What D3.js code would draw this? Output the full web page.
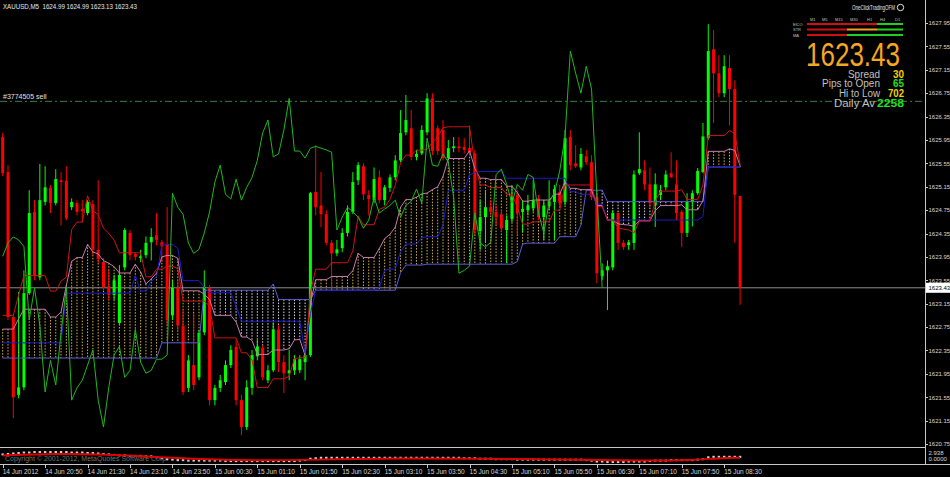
<!DOCTYPE html>
<html><head><meta charset="utf-8">
<script src="https://cdn.jsdelivr.net/npm/d3@7"></script>
<style>html,body{margin:0;padding:0;background:#000;overflow:hidden}</style>
</head><body>
<svg id="c" width="950" height="477"></svg>
<script>
// ---------- DATA ----------
const symbolTitle = "XAUUSD,M5  1624.99 1624.99 1623.13 1623.43";
const opens = [1626.00,1625.40,1622.92,1621.59,1621.72,1623.33,1624.72,1623.60,1624.89,1625.13,
1624.87,1625.26,1625.25,1624.80,1624.87,1624.77,1624.70,1624.85,1624.07,1623.86,
1623.45,1623.30,1622.82,1623.77,1624.36,1624.00,1623.93,1623.98,1624.20,1624.32,
1624.20,1624.17,1622.95,1623.42,1622.77,1621.71,1622.10,1621.89,1622.66,1623.42,
1621.50,1621.71,1621.81,1622.10,1622.41,1621.50,1621.04,1621.71,1622.25,1622.39,
1621.84,1622.01,1622.71,1622.15,1621.96,1622.01,1622.01,1622.15,1622.27,1625.06,
1624.83,1624.68,1624.19,1624.01,1624.10,1624.36,1624.72,1625.26,1625.50,1625.01,
1624.92,1625.31,1624.92,1625.13,1625.31,1625.60,1626.08,1626.15,1625.66,1625.72,
1626.08,1626.66,1626.15,1626.12,1625.64,1625.81,1625.84,1625.83,1625.81,1625.72,
1624.39,1624.63,1624.80,1624.72,1624.68,1624.41,1624.60,1625.01,1624.72,1624.75,
1624.78,1624.95,1624.63,1624.82,1624.89,1625.06,1624.89,1626.00,1625.55,1625.48,
1625.67,1625.57,1624.97,1623.62,1623.72,1623.77,1624.70,1624.19,1624.15,1624.19,
1625.38,1625.43,1625.19,1624.83,1625.01,1625.14,1625.38,1625.19,1624.72,1624.36,
1624.89,1625.04,1625.40,1625.98,1627.50,1627.09,1626.75,1627.18,1626.82,1624.99];
const highs = [1626.07,1625.52,1622.95,1623.35,1623.72,1625.09,1624.92,1625.54,1625.50,1625.18,
1625.45,1625.40,1625.50,1624.95,1624.92,1624.92,1624.92,1624.92,1625.26,1623.93,
1623.72,1623.64,1623.81,1624.44,1624.41,1624.03,1624.07,1624.30,1624.44,1624.70,
1624.24,1624.80,1623.55,1623.55,1623.04,1622.27,1622.99,1622.70,1623.72,1623.47,
1621.76,1621.93,1622.18,1622.44,1622.53,1621.59,1621.84,1622.36,1622.53,1622.44,
1622.10,1622.83,1622.78,1622.27,1622.36,1622.27,1622.27,1622.41,1625.06,1625.86,
1625.40,1624.75,1624.24,1624.24,1624.44,1624.83,1625.40,1625.57,1625.55,1625.09,
1625.48,1625.43,1625.18,1625.36,1625.69,1626.46,1626.72,1626.46,1625.78,1626.20,
1626.75,1626.75,1626.20,1626.29,1625.95,1626.00,1626.00,1625.98,1626.20,1625.78,
1624.92,1625.09,1624.92,1624.83,1624.75,1624.66,1625.18,1625.09,1624.92,1625.01,
1625.26,1625.01,1624.92,1625.26,1625.18,1625.18,1626.12,1626.12,1625.86,1625.81,
1625.78,1625.69,1625.01,1623.84,1623.89,1624.75,1624.71,1624.24,1624.24,1625.43,
1626.08,1625.60,1625.48,1625.38,1625.18,1625.43,1625.74,1625.60,1624.75,1625.04,
1625.09,1625.47,1626.24,1627.93,1627.83,1627.40,1627.40,1627.40,1626.97,1624.99];
const lows = [1625.33,1622.87,1621.19,1621.53,1621.67,1623.30,1623.55,1623.55,1624.83,1624.70,
1624.83,1624.49,1624.58,1624.75,1624.66,1624.54,1624.66,1623.98,1623.84,1623.38,
1623.21,1623.21,1622.78,1623.72,1623.89,1623.89,1623.86,1623.93,1623.89,1624.15,
1623.86,1622.78,1622.87,1622.70,1621.59,1621.64,1621.67,1621.84,1622.61,1621.41,
1621.41,1621.64,1621.76,1622.05,1621.41,1620.90,1620.99,1621.59,1622.18,1621.84,
1621.79,1621.98,1621.98,1621.62,1621.84,1621.93,1621.96,1621.84,1622.24,1624.66,
1624.46,1624.15,1623.43,1623.96,1624.03,1624.30,1624.68,1625.18,1624.92,1624.66,
1624.87,1624.87,1624.83,1625.06,1625.26,1625.57,1626.03,1625.60,1625.60,1625.69,
1626.03,1625.69,1625.69,1625.60,1625.60,1625.74,1625.74,1625.72,1625.69,1624.32,
1624.07,1624.19,1624.66,1624.49,1624.37,1623.84,1624.54,1624.32,1624.37,1624.66,
1624.72,1624.58,1624.24,1624.75,1624.24,1624.80,1624.83,1625.43,1625.47,1625.43,
1625.52,1624.92,1623.50,1623.55,1623.04,1623.72,1624.07,1624.07,1624.07,1624.07,
1625.35,1625.09,1624.80,1624.46,1624.92,1625.09,1625.31,1624.58,1624.12,1624.29,
1624.47,1625.01,1625.38,1625.95,1626.24,1626.68,1626.68,1626.20,1624.19,1623.13];
const closes = [1625.38,1622.92,1621.55,1621.72,1623.33,1624.70,1623.64,1624.92,1625.14,1624.87,
1625.28,1625.23,1624.61,1624.89,1624.72,1624.73,1624.89,1624.07,1623.91,1623.43,
1623.30,1623.55,1623.64,1624.41,1623.98,1623.95,1623.96,1624.19,1624.29,1624.24,
1624.13,1622.87,1623.42,1622.78,1621.64,1622.18,1621.76,1622.65,1623.43,1621.50,
1621.71,1621.84,1622.10,1622.36,1621.50,1621.04,1621.72,1622.27,1622.42,1621.89,
1622.01,1622.71,1622.15,1621.96,1622.01,1622.20,1622.20,1622.27,1625.04,1624.80,
1624.68,1624.19,1624.01,1624.08,1624.36,1624.72,1625.23,1625.52,1625.02,1624.94,
1625.28,1624.92,1625.14,1625.31,1625.60,1626.07,1626.29,1625.66,1625.71,1626.12,
1626.66,1625.76,1625.76,1625.64,1625.81,1625.84,1625.81,1625.78,1625.74,1624.41,
1624.63,1624.80,1624.72,1624.63,1624.44,1624.58,1624.97,1624.70,1624.77,1624.83,
1624.92,1624.63,1624.83,1624.90,1625.11,1624.87,1625.98,1625.52,1625.50,1625.71,
1625.57,1624.97,1623.67,1623.72,1623.79,1624.70,1624.19,1624.12,1624.20,1625.36,
1625.45,1625.19,1624.87,1625.19,1625.09,1625.36,1625.31,1624.70,1624.36,1624.89,
1625.04,1625.42,1626.01,1627.47,1627.09,1626.75,1627.21,1626.82,1625.01,1623.43];
// Ichimoku values that depend on bars before the visible window
const tenkanPre = [1622.95,1622.95,1622.95,1623.30,1623.63,1623.63,1623.63,1623.63];
const kijunPre = [1622.48,1622.48,1622.48,1622.48,1622.48,1622.48,1622.48,1622.48,1622.48,1622.48,
1622.48,1622.48,1623.33,1623.33,1623.33,1623.33,1623.33,1623.33,1623.33,1623.33,1623.33,1623.33,1623.33,1623.33,1623.33];
const spanBPre = [1622.22,1622.22,1622.22,1622.22,1622.22,1622.22,1622.22,1622.22,1622.22,1622.22,
1622.22,1622.22,1622.22,1622.22,1622.22,1622.22,1622.22,1622.22,1622.22,1622.22,
1622.22,1622.22,1622.22,1622.22,1622.22,1622.22,1622.22,1622.22,1622.22,1622.22,
1622.48,1622.48,1622.48,1622.48,1622.48,1622.48,1622.48,1622.48,1623.38,1623.38,
1623.38,1623.38,1623.38,1623.38,1623.38,1623.38,1623.38,1623.38,1623.38,1623.38,1623.38];
const timeLabels = ["14 Jun 2012","14 Jun 20:50","14 Jun 21:30","14 Jun 23:10","14 Jun 23:50","15 Jun 00:30",
"15 Jun 01:10","15 Jun 01:50","15 Jun 02:30","15 Jun 03:10","15 Jun 03:50","15 Jun 04:30","15 Jun 05:10",
"15 Jun 05:50","15 Jun 06:30","15 Jun 07:10","15 Jun 07:50","15 Jun 08:30"];
const timeLabelBars = [0,8,16,24,32,40,48,56,64,72,80,88,96,104,112,120,128,136];
const priceTicks = [1627.95,1627.55,1627.15,1626.75,1626.35,1625.95,1625.55,1625.15,1624.75,1624.35,1623.95,1623.55,1623.15,1622.75,1622.35,1621.95,1621.55,1621.15,1620.75];
const bidPrice = 1623.43;
const orderPrice = 1626.61;
const orderLabel = "#3774505 sell";
const subHist = [1.8,1.9,2.0,2.1,2.2,2.2,2.3,2.3,2.3,2.3, 2.3,2.3,2.3,2.2,2.2,2.2,2.1,2.1,2.0,1.9,
1.8,1.7,1.6,1.6,1.5,1.5,1.5,1.4,1.4,1.2, 1.0,0.8,0.7,0.6,0.6,0.5,0.5,0.5,0.5,0.5,
0.5,0.5,0.4,0.4,0.4,0.4,0.4,0.4,0.4,0.4, 0.4,0.4,0.4,0.4,0.4,0.4,0.5,0.6,0.9,1.0,
1.1,1.1,1.1,1.1,1.1,1.1,1.1,1.1,1.1,1.1, 1.1,1.1,1.1,1.1,1.1,1.1,1.1,1.1,1.1,1.1,
1.1,1.1,1.1,1.1,1.1,1.1,1.1,1.0,1.0,1.0, 0.9,0.9,0.9,0.8,0.8,0.8,0.8,0.7,0.7,0.7,
0.7,0.7,0.7,0.7,0.7,0.7,0.7,0.7,0.7,0.7, 0.6,0.5,0.3,0.3,0.2,0.2,0.2,0.2,0.3,0.3,
0.3,0.3,0.4,0.5,0.5,0.5,0.6,0.6,0.6,0.6, 0.6,0.7,0.8,1.2,1.3,1.3,1.3,1.3,1.3,1.3];
const subLine = [[0,1.6],[10,2.0],[20,1.8],[30,1.2],[45,0.45],[60,0.7],[75,1.0],[90,0.9],[110,0.7],[120,0.45],[130,0.6],[135,1.0],[139,1.1]];
const subTicks = ["2.938","0.0000"];
const infoPrice = "1623.43";
const infoRows = [["Spread","30"],["Pips to Open","65"],["Hi to Low","702"],["Daily Av","2258"]];
const tfLabels = ["M1","M5","M15","M30","H1","H4","D1"];
const trendRows = ["ElCO","STR","MA"];

// ---------- CHART ----------
const svg = d3.select("#c");
const W = 950, H = 477, axisX = 925, mainBottom = 447;
svg.append("rect").attr("width",W).attr("height",H).attr("fill","#000");
const n = closes.length;
const x = d3.scaleLinear().domain([0, n-1]).range([2.7, 740.1]);
const y = d3.scaleLinear().domain([1620.75, 1627.95]).range([444, 23]);
const font = "'Liberation Sans', Arial, sans-serif";

// Ichimoku (drawn unshifted like the reference)
const mid = (a,b)=> (d3.max(highs.slice(a,b+1))+d3.min(lows.slice(a,b+1)))/2;
const tenkan = closes.map((_,i)=> i>=8 ? mid(i-8,i) : tenkanPre[i]);
const kijun = closes.map((_,i)=> i>=25 ? mid(i-25,i) : kijunPre[i]);
const spanA = closes.map((_,i)=> (tenkan[i]+kijun[i])/2);
const spanB = closes.map((_,i)=> i>=51 ? mid(i-51,i) : spanBPre[i]);
const chikou = closes.slice(26);

const main = svg.append("g");
main.append("clipPath").attr("id","mc").append("rect").attr("x",0).attr("y",0).attr("width",axisX).attr("height",mainBottom);
const g = main.append("g").attr("clip-path","url(#mc)");

// cloud hatch
g.append("g").selectAll("line").data(closes.map((_,i)=>i)).join("line")
  .attr("x1",i=>x(i)).attr("x2",i=>x(i))
  .attr("y1",i=>y(Math.max(spanA[i],spanB[i]))).attr("y2",i=>y(Math.min(spanA[i],spanB[i])))
  .attr("stroke",i=> spanA[i]>=spanB[i] ? "#d9b04a" : "#dcd6ec")
  .attr("stroke-width",1).attr("stroke-dasharray","1.5,1.5");

// order line
g.append("line").attr("x1",0).attr("x2",axisX).attr("y1",y(orderPrice)).attr("y2",y(orderPrice))
  .attr("stroke","#3f7d3f").attr("stroke-dasharray","7,3,2,3");
svg.append("text").attr("x",3).attr("y",y(orderPrice)-2).attr("fill","#e0e0e0").attr("font-family",font)
  .attr("font-size",7).text(orderLabel);
// bid line
g.append("line").attr("x1",0).attr("x2",axisX).attr("y1",y(bidPrice)+0.5).attr("y2",y(bidPrice)+0.5)
  .attr("stroke","#8c8c8c").attr("stroke-width",1);

// candles
const cg = g.append("g");
const idx = closes.map((_,i)=>i);
cg.selectAll("line.w").data(idx).join("line").attr("class","w")
  .attr("x1",i=>x(i)).attr("x2",i=>x(i)).attr("y1",i=>y(highs[i])).attr("y2",i=>y(lows[i]))
  .attr("stroke",i=>closes[i]>=opens[i]?"#00ff00":"#ff0000");
cg.selectAll("rect").data(idx).join("rect")
  .attr("x",i=>x(i)-1.5).attr("width",3)
  .attr("y",i=>y(Math.max(opens[i],closes[i])))
  .attr("height",i=>Math.max(1, Math.abs(y(opens[i])-y(closes[i]))))
  .attr("fill",i=>closes[i]>=opens[i]?"#00ff00":"#ff0000");

// indicator lines
const line = d3.line().x((d,i)=>x(i)).y(d=>y(d));
g.append("path").attr("d",line(spanB)).attr("fill","none").attr("stroke","#5b5bd6").attr("stroke-width",1);
g.append("path").attr("d",line(spanA)).attr("fill","none").attr("stroke","#c87ab0").attr("stroke-width",1);
g.append("path").attr("d",line(kijun)).attr("fill","none").attr("stroke","#1c1cc8").attr("stroke-width",1);
g.append("path").attr("d",line(tenkan)).attr("fill","none").attr("stroke","#d01414").attr("stroke-width",1);
g.append("path").attr("d",line(chikou)).attr("fill","none").attr("stroke","#1fb81f").attr("stroke-width",1);

// title
svg.append("text").attr("x",3).attr("y",9).attr("fill","#e8e8e8").attr("font-family",font)
  .attr("font-size",7).attr("textLength",134).attr("lengthAdjust","spacingAndGlyphs").attr("xml:space","preserve").text(symbolTitle);

// right axis
svg.append("line").attr("x1",axisX+0.5).attr("x2",axisX+0.5).attr("y1",0).attr("y2",465).attr("stroke","#c8c8c8");
const ax = svg.append("g");
ax.selectAll("line").data(priceTicks).join("line").attr("x1",axisX).attr("x2",axisX+3)
  .attr("y1",d=>Math.round(y(d))+0.5).attr("y2",d=>Math.round(y(d))+0.5).attr("stroke","#c8c8c8");
ax.selectAll("text").data(priceTicks).join("text").attr("x",928.5).attr("y",d=>y(d)+2.3)
  .attr("fill","#d8d8d8").attr("font-family",font).attr("font-size",6).text(d=>d.toFixed(2));
// bid label
svg.append("rect").attr("x",926).attr("y",y(bidPrice)-4.5).attr("width",24).attr("height",10).attr("fill","#fff");
svg.append("text").attr("x",928.5).attr("y",y(bidPrice)+2.6).attr("fill","#000").attr("font-family",font)
  .attr("font-size",6).text(bidPrice.toFixed(2));

// sub window
const sy = d3.scaleLinear().domain([0,2.938]).range([463,449]);
svg.append("line").attr("x1",0).attr("x2",axisX).attr("y1",447.5).attr("y2",447.5).attr("stroke","#c8c8c8");
svg.append("line").attr("x1",0).attr("x2",950).attr("y1",464.5).attr("y2",464.5).attr("stroke","#c8c8c8");
svg.append("text").attr("x",5).attr("y",461).attr("fill","#707070").attr("font-family",font).attr("font-size",7)
  .text("Copyright © 2001-2012, MetaQuotes Software Corp.");
svg.append("g").selectAll("rect").data(idx).join("rect").attr("x",i=>x(i)-1.2).attr("width",2.4)
  .attr("y",i=>sy(subHist[i])-1).attr("height",2).attr("fill","#d0d0d0");
svg.append("path").attr("d",d3.line().curve(d3.curveBasis).x(d=>x(d[0])).y(d=>sy(d[1]))(subLine))
  .attr("fill","none").attr("stroke","#e00000").attr("stroke-width",2);
svg.selectAll("text.st").data(subTicks).join("text").attr("class","st").attr("x",928.5).attr("y",(d,i)=>454.5+i*6.5)
  .attr("fill","#d8d8d8").attr("font-family",font).attr("font-size",6).text(d=>d);

// time axis
const tg = svg.append("g");
tg.selectAll("line").data(timeLabelBars).join("line").attr("x1",d=>Math.round(x(d))+0.5).attr("x2",d=>Math.round(x(d))+0.5)
  .attr("y1",465).attr("y2",468).attr("stroke","#c8c8c8");
tg.selectAll("text").data(timeLabels).join("text").attr("x",(d,i)=>x(timeLabelBars[i])).attr("y",474)
  .attr("fill","#d8d8d8").attr("font-family",font).attr("font-size",6.5).text(d=>d);

// info panel
svg.append("text").attr("x",852).attr("y",10).attr("fill","#e8e8e8").attr("font-family",font).attr("font-size",7)
  .attr("textLength",43).attr("lengthAdjust","spacingAndGlyphs").text("OneClickTradingOFM");
svg.append("circle").attr("cx",900.5).attr("cy",7.5).attr("r",3.2).attr("fill","none").attr("stroke","#e8e8e8");
const tfX = [810,822,835,850,867,880,895];
svg.selectAll("text.tf").data(tfLabels).join("text").attr("class","tf").attr("x",(d,i)=>tfX[i]).attr("y",20.5)
  .attr("fill","#c0c0c0").attr("font-family",font).attr("font-size",4).text(d=>d);
svg.selectAll("text.tr").data(trendRows).join("text").attr("class","tr").attr("x",793).attr("y",(d,i)=>25.5+i*5.5)
  .attr("fill","#c0c0c0").attr("font-family",font).attr("font-size",4).text(d=>d);
const bars = [[[807,877,"#d01010"],[877,903,"#20d020"]],[[807,847,"#d01010"],[847,877,"#f0a020"],[877,903,"#20d020"]],[[807,847,"#d01010"],[847,903,"#20d020"]]];
bars.forEach((row,r)=>row.forEach(s=>svg.append("line").attr("x1",s[0]).attr("x2",s[1]).attr("y1",24+r*5.5).attr("y2",24+r*5.5)
  .attr("stroke",s[2]).attr("stroke-width",2)));
svg.append("text").attr("x",806).attr("y",66).attr("fill","#f5a623").attr("font-family",font).attr("font-size",33)
  .attr("textLength",94).attr("lengthAdjust","spacingAndGlyphs").text(infoPrice);
const valColors = ["#f0d000","#20e020","#f0d000","#20e020"];
const labelLen = [32,58,41,41];
const valLen = [11,11,16,27];
infoRows.forEach((r,i)=>{
  svg.append("text").attr("x", i===3?875:880).attr("y",77.5+i*9.7).attr("text-anchor","end").attr("fill","#c0c0c0")
    .attr("font-family",font).attr("font-size",10).attr("textLength",labelLen[i]).attr("lengthAdjust","spacingAndGlyphs").text(r[0]);
  svg.append("text").attr("x",904).attr("y",77.5+i*9.7).attr("text-anchor","end").attr("fill",valColors[i])
    .attr("font-family",font).attr("font-size",10).attr("font-weight","bold")
    .attr("textLength",valLen[i]).attr("lengthAdjust","spacingAndGlyphs").text(r[1]);
});
</script>
</body></html>
